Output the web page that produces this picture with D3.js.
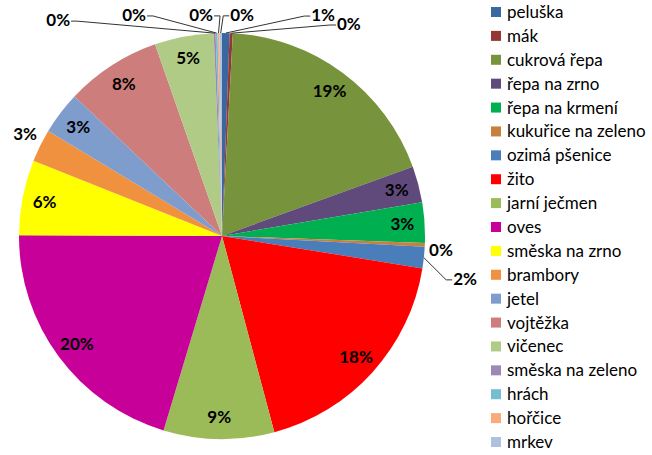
<!DOCTYPE html>
<html><head><meta charset="utf-8">
<script src="https://cdn.jsdelivr.net/npm/d3@7"></script>
<style>body{margin:0;background:#fff}svg{display:block}</style></head>
<body>
<svg id="c" width="652" height="455"></svg>
<script>
const categories = ["peluška","mák","cukrová řepa","řepa na zrno","řepa na krmení","kukuřice na zeleno","ozimá pšenice","žito","jarní ječmen","oves","směska na zrno","brambory","jetel","vojtěžka","vičenec","směska na zeleno","hrách","hořčice","mrkev"];
const values = [0.6,0.25,18.6,2.9,3.2,0.3,1.7,18.3,8.8,20.4,6.0,2.6,3.4,7.6,4.7,0.15,0.15,0.15,0.2];
const colors = ["#3A67A0","#953735","#77933C","#604A7B","#00B050","#C8803E","#4A7EBB","#FF0000","#9BBB59","#C8009A","#FFFF00","#F0913F","#7E9DCC","#CD7D7B","#B0CB86","#9D88B6","#75BDD2","#F8AC7A","#AEC1DE"];
// outside label placement: index -> [angle deg, radius factor, leader line]
const outsideLabels = {0:[24.6,1.197,true],1:[30.9,1.217,true],5:[93.7,1.081,false],6:[100,1.216,true],11:[297.4,1.093,false],15:[322.8,1.335,true],16:[338.3,1.172,true],17:[354.6,1.094,true],18:[5.2,1.094,true]};
const insideFactor = 0.89;

const svg = d3.select("#c");
const cx = 222, cy = 236, R = 203;
const color = d3.scaleOrdinal().domain(categories).range(colors);
const total = d3.sum(values);
const pie = d3.pie().sort(null).value(d => d.v);
const data = pie(categories.map((c,i)=>({c, v: values[i], i})));
const arc = d3.arc().innerRadius(0).outerRadius(R);
const g = svg.append("g").attr("transform", `translate(${cx},${cy})`);
g.selectAll("path.s").data(data).join("path").attr("class","s")
  .attr("d", arc).attr("fill", d => color(d.data.c));

const polar = (deg, r) => { const a = deg*Math.PI/180; return [r*Math.sin(a), -r*Math.cos(a)]; };
const fmt = v => Math.round(v/total*100) + "%";

data.forEach(d => {
  const i = d.data.i;
  const mid = (d.startAngle + d.endAngle)/2 * 180/Math.PI;
  const o = outsideLabels[i];
  let p;
  if (o) p = polar(o[0], o[1]*R); else p = polar(mid, insideFactor*R);
  const t = g.append("text").attr("x", p[0]).attr("y", p[1]).attr("dy","0.35em")
    .attr("text-anchor","middle").attr("font-family","Lato, 'Open Sans', sans-serif")
    .attr("font-weight","bold").attr("font-size", 17).attr("fill","#000").text(fmt(d.data.v));
  if (o && o[2]) {
    const bb = t.node().getBBox();
    const target = polar(mid, R);
    let ex, elx;
    if (o[0] > 180) { ex = bb.x + bb.width + 1; elx = ex + 6; }
    else { ex = bb.x - 1; elx = ex - 6; }
    g.append("polyline").attr("points", [[ex,p[1]+1],[elx,p[1]+1],target].map(q=>q.join(",")).join(" "))
      .attr("fill","none").attr("stroke","#333").attr("stroke-width",1);
  }
});

// legend
const ly = d3.scaleLinear().domain([0, categories.length-1]).range([12, 442]);
const lg = svg.append("g");
categories.forEach((c,i) => {
  lg.append("rect").attr("x", 491).attr("y", ly(i)-5).attr("width", 10).attr("height", 10).attr("fill", color(c));
  lg.append("text").attr("x", 507).attr("y", ly(i)).attr("dy","0.35em")
    .attr("font-family","Lato, 'Open Sans', sans-serif").attr("font-size", 17).attr("fill","#000").text(c);
});
</script>
</body></html>
